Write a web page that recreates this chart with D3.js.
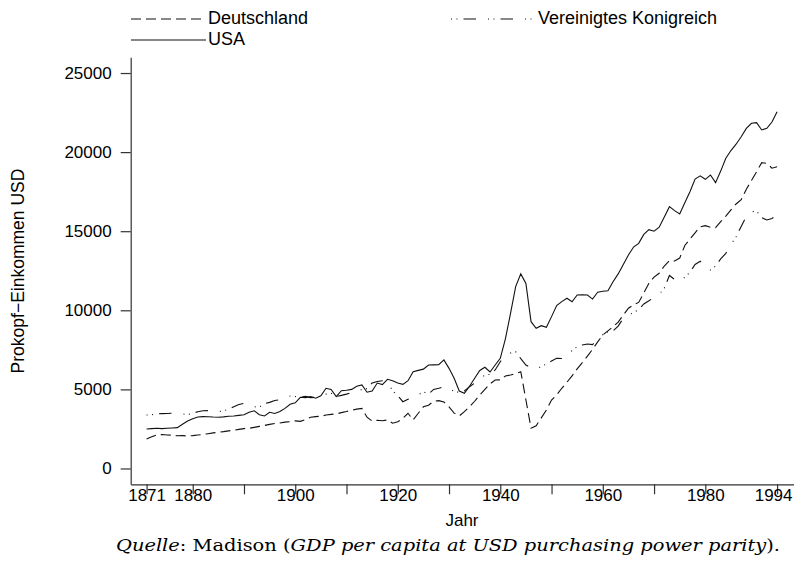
<!DOCTYPE html>
<html><head><meta charset="utf-8">
<script src="https://cdn.jsdelivr.net/npm/d3@7"></script>
<style>
html,body{margin:0;padding:0;background:#fff;}
svg{display:block;}
text{font-family:"Liberation Sans",Arial,sans-serif;fill:#000;}
.cap{font-family:"DejaVu Serif","Liberation Serif",serif;}
</style></head>
<body>
<svg id="chart" width="794" height="561"></svg>
<script>
const firstYear = 1871;
const lastYear = 1994;
const years = d3.range(firstYear, lastYear + 1);

const usa = [2500,2520,2540,2520,2540,2560,2580,2800,3000,3150,
3250,3280,3270,3250,3240,3260,3300,3320,3360,3400,
3550,3650,3400,3320,3550,3480,3600,3800,4060,4150,
4500,4480,4550,4440,4600,5070,5000,4540,4920,4950,
5000,5200,5280,4820,4900,5400,5300,5640,5550,5400,
5320,5550,6120,6200,6280,6540,6550,6560,6860,6330,
5700,4900,4750,5200,5700,6200,6400,6100,6540,6965,
8200,9800,11500,12300,11700,9280,8860,9030,8925,9600,
10300,10550,10760,10540,10970,10980,10970,10710,11140,11200,
11240,11800,12300,12900,13500,14000,14230,14800,15100,15000,
15250,15900,16550,16300,16090,16800,17500,18300,18500,18280,
18550,18070,18800,19610,20100,20500,20970,21500,21820,21860,
21400,21500,21900,22550];

const deutschland = [1860,2000,2120,2150,2120,2100,2070,2080,2050,2080,
2120,2150,2200,2250,2290,2330,2380,2420,2470,2520,
2540,2600,2660,2720,2790,2840,2880,2930,2960,3010,
2980,3100,3240,3280,3300,3380,3420,3450,3530,3600,
3680,3750,3800,3240,3000,3050,3020,3070,2860,2950,
3170,3490,3070,3490,3900,4000,4250,4290,4200,3900,
3500,3320,3590,3900,4250,4650,5000,5350,5590,5600,
5850,5910,6000,6120,4330,2540,2700,3200,3700,4330,
4650,5070,5450,5850,6300,6690,7100,7530,8000,8440,
8700,8960,9250,9700,10130,10350,10500,11100,11710,12100,
12340,12800,13140,13120,13300,14100,14500,14900,15280,15350,
15250,15220,15600,15960,16350,16720,17000,17650,18200,18760,
19330,19290,18980,19080];

const vk = [3380,3400,3450,3470,3480,3490,3480,3450,3400,3490,
3590,3650,3660,3620,3600,3640,3750,3900,4050,4120,
4050,3900,3880,4100,4180,4300,4350,4460,4580,4550,
4500,4560,4480,4500,4580,4700,4750,4560,4620,4700,
4800,4820,5000,5050,5400,5500,5550,5500,4900,4600,
4220,4370,4500,4650,4850,4700,5000,5070,5170,5130,
4850,4820,4900,5170,5400,5650,5910,5950,6230,6750,
7150,7300,7380,6950,6540,6380,6280,6450,6600,6800,
6965,6950,7100,7450,7700,7810,7870,7830,8170,8450,
8650,8700,9000,9500,9700,9850,10050,10400,10600,10820,
11000,11400,12200,11950,11800,12100,12400,12900,13100,12700,
12550,12800,13250,13600,14150,14650,15300,15950,16230,16270,
15850,15710,15800,16050];

const xTicks = [1871,1880,1890,1900,1910,1920,1930,1940,1950,1960,1970,1980,1994];
const xLabels = [1871,1880,1900,1920,1940,1960,1980,1994];
const yTicks = [0,5000,10000,15000,20000,25000];

const seriesNames = ["Deutschland","Vereinigtes Konigreich","USA"];
const seriesData = [deutschland, vk, usa];
const seriesDash = ["10,5","1,4.5,1,6,12.5,12",null];

const svg = d3.select("#chart");
const x = d3.scaleLinear().domain([1867.9, 1997.3]).range([130.7, 794]);
const y = d3.scaleLinear().domain([-1000, 26000]).range([484.3, 57.2]);

// axes
const xAxis = d3.axisBottom(x).tickValues(xTicks).tickSize(10).tickSizeOuter(0)
  .tickFormat(d => xLabels.includes(d) ? String(d) : "");
const gx = svg.append("g").attr("transform","translate(0,484.3)").call(xAxis);
gx.selectAll("path,line").attr("stroke","#333").attr("stroke-width",1.2);
gx.selectAll("text").attr("font-size",17).attr("dy","0.2em").attr("font-family","Liberation Sans, Arial, sans-serif").attr("fill","#000")
  .attr("x", d => d === lastYear ? -4 : 0);

const yAxis = d3.axisLeft(y).tickValues(yTicks).tickSize(10).tickSizeOuter(0).tickPadding(9)
  .tickFormat(d3.format("d"));
const gy = svg.append("g").attr("transform","translate(130.7,0)").call(yAxis);
gy.selectAll("path,line").attr("stroke","#333").attr("stroke-width",1.2);
gy.selectAll("text").attr("font-size",17).attr("font-family","Liberation Sans, Arial, sans-serif").attr("fill","#000");

// lines
const line = d3.line().x((d,i)=>x(years[i])).y(d=>y(d));
seriesData.forEach((s,k)=>{
  svg.append("path").datum(s).attr("d",line).attr("fill","none")
    .attr("stroke","#111").attr("stroke-width",1.1)
    .attr("stroke-dasharray",seriesDash[k]);
});

// legend
const legendPos = [[131,206,19,208,24],[451,536,19,538,24],[131,206,40,208,45]];
seriesNames.forEach((n,k)=>{
  const p = legendPos[k];
  svg.append("line").attr("x1",p[0]).attr("x2",p[1]).attr("y1",p[2]).attr("y2",p[2])
    .attr("stroke","#111").attr("stroke-width",1.1).attr("stroke-dasharray",seriesDash[k]);
  svg.append("text").attr("x",p[3]).attr("y",p[4]).attr("font-size",18).text(n);
});

// axis titles
svg.append("text").attr("x",462).attr("y",526).attr("text-anchor","middle").attr("font-size",17).text("Jahr");
svg.append("text").attr("transform","translate(24,271) rotate(-90)").attr("text-anchor","middle")
  .attr("font-size",17.5).text("Prokopf\u2212Einkommen USD");

// caption
const cap = svg.append("text").attr("class","cap").attr("x",116).attr("y",551)
  .attr("font-size",16.5).attr("textLength",664).attr("lengthAdjust","spacingAndGlyphs");
cap.append("tspan").attr("font-style","italic").text("Quelle");
cap.append("tspan").text(": Madison (");
cap.append("tspan").attr("font-style","italic").text("GDP per capita at USD purchasing power parity");
cap.append("tspan").text(").");
</script>
</body></html>
